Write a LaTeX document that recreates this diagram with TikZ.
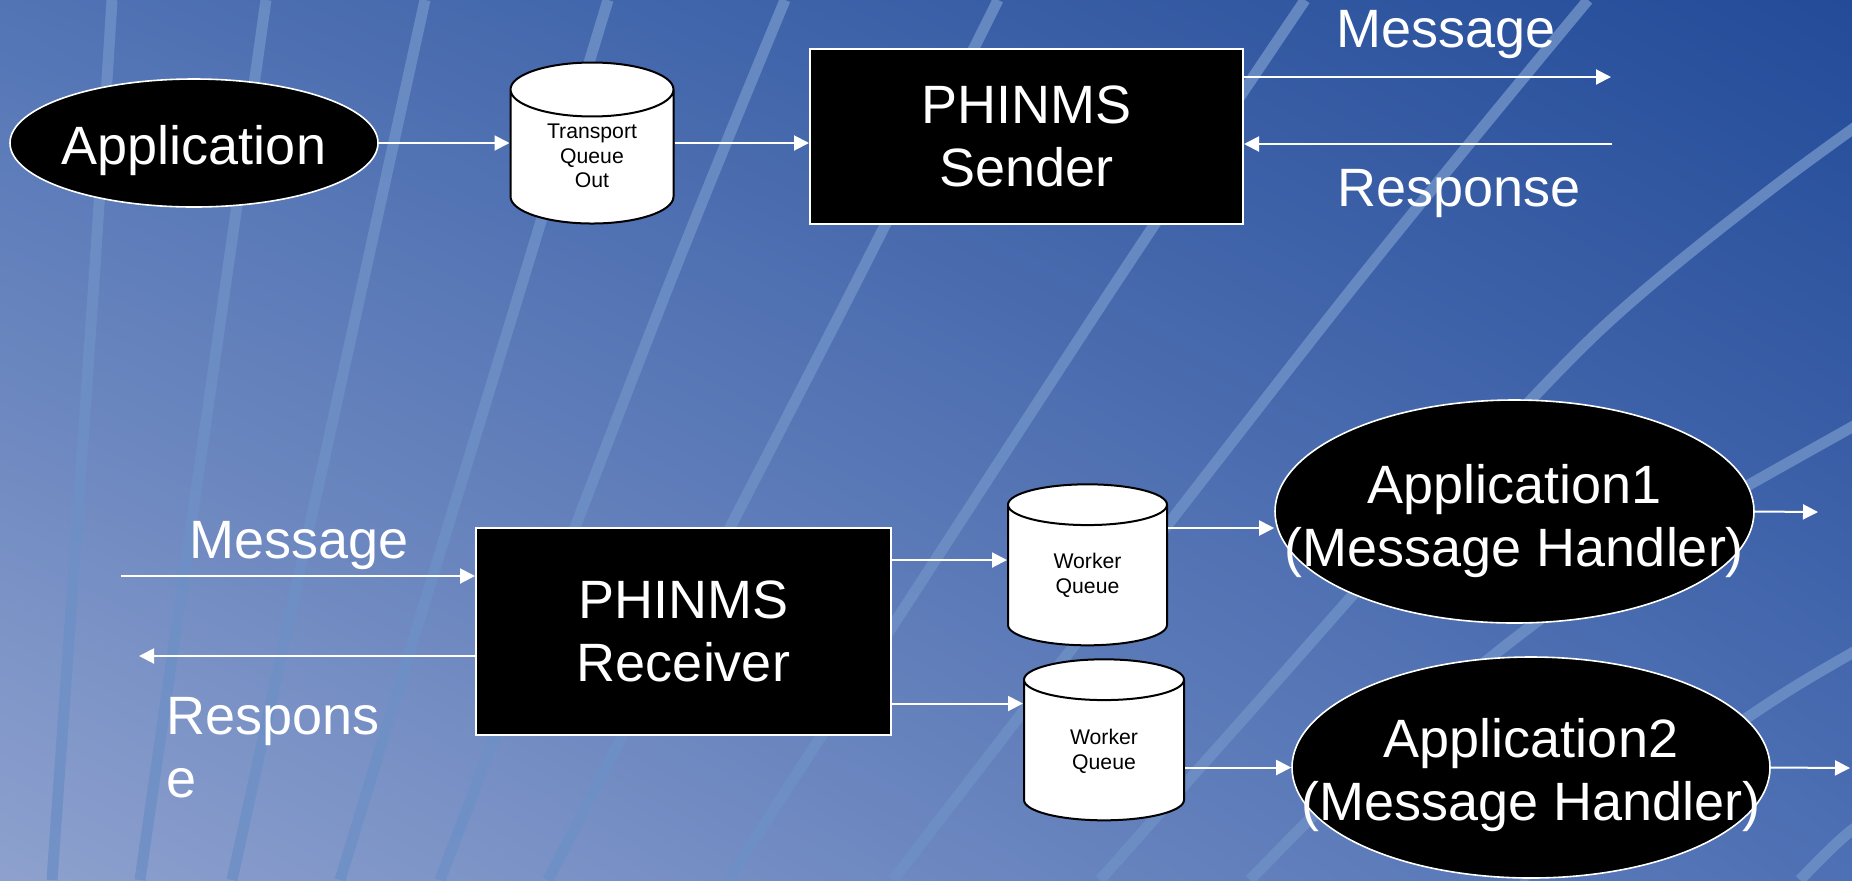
\documentclass[tikz,border=0pt]{standalone}
\usepackage{fontspec}
\setmainfont{Liberation Sans}
\usetikzlibrary{shapes.geometric,arrows.meta,shadings}
\definecolor{bgUL}{RGB}{82,116,181}
\definecolor{bgUR}{RGB}{35,75,152}
\definecolor{bgLL}{RGB}{142,161,206}
\definecolor{bgLR}{RGB}{78,112,180}
\definecolor{streakblue}{RGB}{110,144,198}
\newcommand{\bigtxt}{\fontsize{27}{31.5}\selectfont}
\newcommand{\smalltxt}{\fontsize{10.6}{12.3}\selectfont}

\begin{document}
\begin{tikzpicture}[x=0.5pt, y=-0.5pt,
  box/.style={draw=white, fill=black, line width=1pt, text=white, font=\bigtxt, align=center},
  oval/.style={ellipse, draw=white, fill=black, line width=0.8pt, inner sep=0pt},
  queue/.style={cylinder, shape border rotate=90, aspect=0.6, draw=black, fill=white, line width=1pt, inner sep=0pt, text=black, font=\smalltxt, align=center},
  lbl/.style={text=white, font=\bigtxt},
  flow/.style={draw=white, line width=1pt, -{Triangle[length=7.5pt,width=7.5pt]}},
  streak/.style={draw=streakblue, line width=5.5pt, opacity=0.85}]
\useasboundingbox (0,0) rectangle (1852,880);
\shade[upper left=bgUL, upper right=bgUR, lower left=bgLL, lower right=bgLR] (0,0) rectangle (1852,880);

% streaks
\begin{scope}
\clip (0,0) rectangle (1852,880);
\draw[streak] plot[smooth] coordinates {(112,0) (92,310) (52,880)};
\draw[streak] plot[smooth] coordinates {(266,0) (222,310) (140,880)};
\draw[streak] plot[smooth] coordinates {(425,0) (357,310) (232,880)};
\draw[streak] plot[smooth] coordinates {(608,0) (514,310) (340,880)};
\draw[streak] plot[smooth] coordinates {(785,0) (659,310) (440,880)};
\draw[streak] plot[smooth] coordinates {(998,0) (842,310) (548,880)};
\draw[streak] plot[smooth] coordinates {(1305,0) (1098,310) (728,880)};
\draw[streak] plot[smooth] coordinates {(1588,0) (1335,310) (893,880)};
\draw[streak] plot[smooth] coordinates {(2034,0) (1783,180) (1600,330) (1420,520) (1260,700) (1100,880)};
\draw[streak] plot[smooth] coordinates {(2100,290) (1852,427) (1650,543) (1500,650) (1350,780) (1250,880)};
\draw[streak] plot[smooth] coordinates {(2000,570) (1852,653) (1763,707) (1600,820) (1520,880)};
\draw[streak] plot[smooth] coordinates {(1920,790) (1852,830) (1800,880)};
\end{scope}

% sender side
\node[oval, minimum width=184pt, minimum height=64pt, label={[lbl, yshift=-4pt]center:Application}] (A) at (194,143) {};
\node[queue, minimum width=81.5pt, minimum height=80.5pt, text height=31pt] (Q) at (592,157) {Transport\\Queue\\Out};
\node[box, minimum width=216.5pt, minimum height=87.5pt] (S) at (1026.5,136) {PHINMS\\Sender};

\coordinate (mo) at (1611,77);
\coordinate (ri) at (1612,144);

\draw[flow] (A.east) -- (A.east -| Q.west);
\draw[flow] (Q.east |- A.east) -- (A.east -| S.west);
\draw[flow] (S.east |- mo) -- (mo);
\draw[flow] (ri) -- (ri -| S.east);

\node[lbl, anchor=base] (m1) at (1446,47) {Message};
\node[lbl, anchor=base] (r1) at (1459,206) {Response};

% receiver side
\node[box, minimum width=207.5pt, minimum height=103.5pt] (R) at (683.5,631.5) {PHINMS\\Receiver};
\node[queue, minimum width=79.5pt, minimum height=80.5pt, text height=20pt] (W1) at (1087.5,575.5) {Worker\\Queue};
\node[queue, minimum width=80pt, minimum height=80.5pt, text height=21pt] (W2) at (1104,750.5) {Worker\\Queue};
\node[oval, minimum width=239.5pt, minimum height=111.5pt, label={[lbl, align=center, yshift=-5pt]center:{Application1\\(Message Handler)}}] (A1) at (1514.5,511.5) {};
\node[oval, minimum width=239pt, minimum height=110.5pt, label={[lbl, align=center, yshift=-4pt]center:{Application2\\(Message Handler)}}] (A2) at (1531,767.5) {};

\coordinate (mi) at (121,576);
\coordinate (ro) at (139,656);
\coordinate (rw1) at ([yshift=35.75pt]R.east);
\coordinate (rw2) at ([yshift=-36pt]R.east);
\coordinate (q1) at ([yshift=23.75pt]W1.east);
\coordinate (o1) at (1818,512);
\coordinate (o2) at (1850,768);

\draw[flow] (mi) -- (mi -| R.west);
\draw[flow] (ro -| R.west) -- (ro);
\draw[flow] (rw1) -- (rw1 -| W1.west);
\draw[flow] (rw2) -- (rw2 -| W2.west);
\draw[flow] (q1) -- (q1 -| A1.west);
\draw[flow] (A2.west -| W2.east) -- (A2.west);
\draw[flow] (A1.east) -- (o1);
\draw[flow] (A2.east) -- (o2);

\node[lbl, anchor=base] (m2) at (299,558) {Message};
\node[lbl, anchor=base west, align=left] (r3) at (159,797) {Respons\\e};
\end{tikzpicture}
\end{document}
